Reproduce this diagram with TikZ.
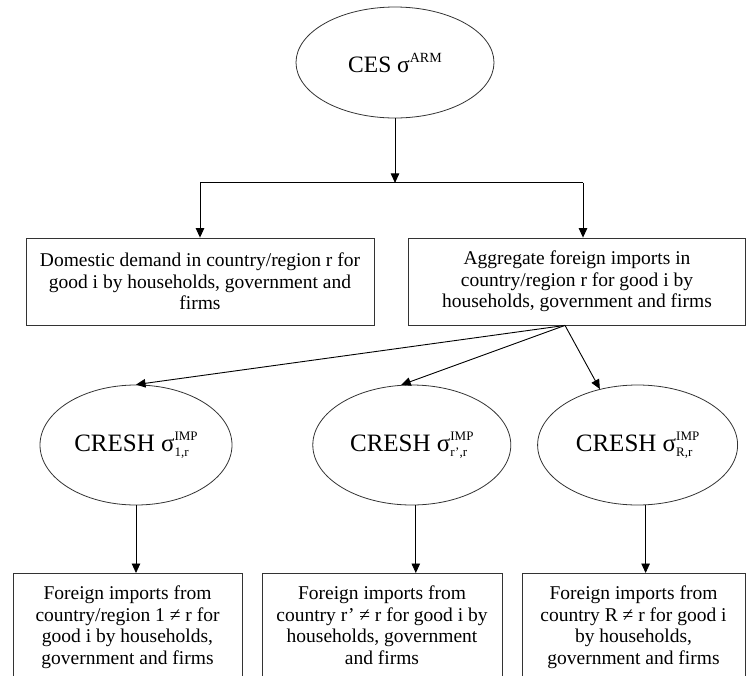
\documentclass[tikz,border=0pt]{standalone}
\usepackage{fontspec}
\setmainfont{Liberation Serif}
\usetikzlibrary{shapes.geometric}
\usetikzlibrary{positioning}
\usetikzlibrary{arrows.meta}

\newcommand{\supsub}[2]{{\fontsize{13}{13}\selectfont\ooalign{\raise11.5pt\hbox{#1}\cr\lower5pt\hbox{#2}\cr}}}

\begin{document}
\begin{tikzpicture}[x=1pt,y=-1pt,thick,>={Triangle[length=9.5pt,width=8.5pt]},
	oval/.style={ellipse,draw=black!80,line width=0.8pt,inner sep=0pt,minimum height=120pt,font=\fontsize{25}{27}\selectfont},
	box/.style={rectangle,draw=black!80,line width=0.8pt,align=center,inner xsep=4pt,font=\fontsize{19.5}{21.5}\selectfont},
	leaf/.style={box,anchor=north,inner ysep=12.5pt}]
	\useasboundingbox (0,0) rectangle (747,675);
	\node[oval,minimum width=198pt,minimum height=111pt,font=\fontsize{23.5}{26}\selectfont] (CES) at (395,62.5) {CES σ\raisebox{10pt}{\fontsize{14}{14}\selectfont ARM}};
	\node[box,minimum width=348pt,minimum height=87pt] (DOM) at (200,281.5) {Domestic demand in country/region r for\\good i by households, government and\\firms};
	\node[box,minimum width=337pt,minimum height=87pt] (AGG) at (577,281.5) {Aggregate foreign imports in\\country/region r for good i by\\households, government and firms};
	\node[oval,minimum width=192pt] (C1) at (136,445) {CRESH σ\supsub{IMP}{1,r}};
	\node[oval,minimum width=198pt,right=80pt of C1] (C2) {CRESH σ\supsub{IMP}{r’,r}};
	\node[oval,minimum width=200pt,right=26pt of C2] (C3) {CRESH σ\supsub{IMP}{R,r}};
	\node[leaf,minimum width=229pt] (F1) at (127.5,573) {Foreign imports from\\country/region 1 ≠ r for\\good i by households,\\government and firms};
	\node[leaf,minimum width=240pt] (F2) at (382,573) {Foreign imports from\\country r’ ≠ r for good i by\\households, government\\and firms};
	\node[leaf,minimum width=223pt] (F3) at (633.5,573) {Foreign imports from\\country R ≠ r for good i\\by households,\\government and firms};

	\coordinate (split) at ([yshift=-64.5pt]CES.south);
	\coordinate (dsplit) at (DOM.north |- split);
	\coordinate (asplit) at ([xshift=6pt]AGG.north |- split);
	\coordinate (fan) at ([xshift=-12pt]AGG.south);

	\draw[->,line width=0.9pt] (CES.south) -- (split);
	\draw[line width=0.9pt] (dsplit) -- (asplit);
	\draw[->,line width=0.9pt] (dsplit) -- (DOM.north);
	\draw[->,line width=0.9pt] (asplit) -- ([xshift=6pt]AGG.north);
	\path[->,line width=0.9pt] (fan)	edge	(C1.north)
			edge	(C2.100)
			edge	(C3.124);
	\draw[->,line width=0.9pt] (C1.south) -- (C1.south |- F1.north);
	\draw[->,line width=0.9pt] ([xshift=4pt]C2.south) -- ([xshift=4pt]C2.south |- F2.north);
	\draw[->,line width=0.9pt] ([xshift=8pt]C3.south) -- ([xshift=8pt]C3.south |- F3.north);
\end{tikzpicture}
\end{document}
